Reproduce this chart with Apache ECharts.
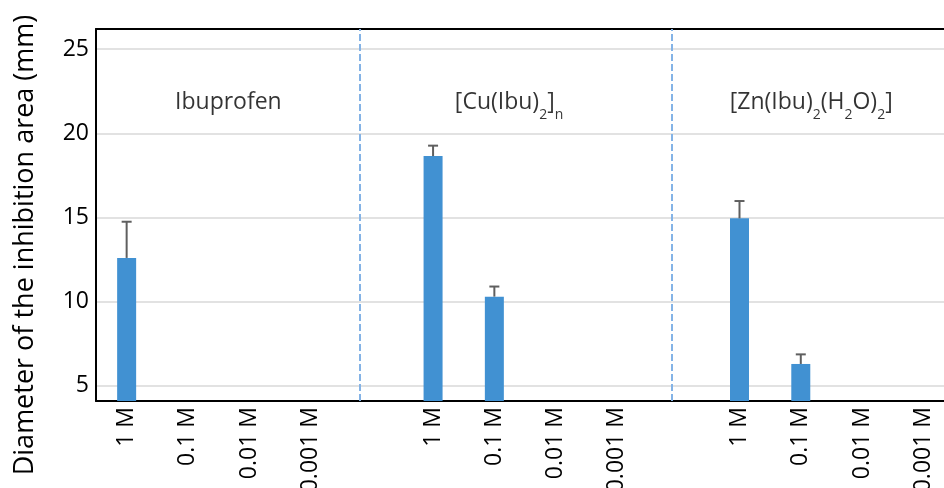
<!DOCTYPE html>
<html><head><meta charset="utf-8">
<script src="https://cdn.jsdelivr.net/npm/echarts@6/dist/echarts.min.js"></script>
<style>html,body{margin:0;padding:0;background:#fff}#c{width:944px;height:488px}</style>
</head><body><div id="c"></div>
<script>
// ---- data ----
const categories = ["1 M","0.1 M","0.01 M","0.001 M","","1 M","0.1 M","0.01 M","0.001 M","","1 M","0.1 M","0.01 M","0.001 M"];
const means  = [12.6, null, null, null, null, 18.65, 10.3, null, null, null, 14.95, 6.3, null, null];
const errors = [2.15, null, null, null, null, 0.62, 0.6, null, null, null, 1.03, 0.57, null, null];
const groupNames = ["{m|Ibuprofen}", "{m|[Cu(Ibu)}{s|2}{m|]}{s|n}", "{m|[Zn(Ibu)}{s|2}{m|(H}{s|2}{m|O)}{s|2}{m|]}"];
const groupLabelX = [1.66, 6.24, 11.17];
const groupLabelY = [22.5, 22.5, 22.5];
const dividerX = [3.8, 8.9];
const yAxisTitle = "Diameter of the inhibition area (mm)";

// ---- chart ----
const FONT = "Open Sans";
const chart = echarts.init(document.getElementById('c'), null, {renderer: 'canvas'});
const errData = [];
means.forEach((m, i) => { if (m != null && errors[i] != null) errData.push([i, m, errors[i]]); });

chart.setOption({
  animation: false,
  backgroundColor: '#fff',
  grid: {left: 96, top: 29, width: 858, height: 372, containLabel: false, outerBoundsMode: 'none'},
  xAxis: [{
    type: 'category', data: categories, boundaryGap: true,
    axisLine: {show: true, onZero: false, lineStyle: {color: '#000', width: 2}},
    axisTick: {show: false},
    axisLabel: {interval: 0, rotate: 90, margin: 6, fontSize: 23, fontFamily: FONT, color: '#000'},
    splitLine: {show: false}
  }, {
    type: 'value', position: 'top', min: -0.5, max: 13.5,
    axisLine: {show: true, onZero: false, lineStyle: {color: '#000', width: 2}},
    axisTick: {show: false}, axisLabel: {show: false}, splitLine: {show: false}
  }],
  yAxis: {
    type: 'value', min: 4.1, max: 26.2, splitNumber: 5,
    name: yAxisTitle, nameLocation: 'middle', nameGap: 57,
    nameTextStyle: {fontSize: 27, fontFamily: FONT, color: '#000', padding: [0, 60, 0, 0]},
    axisLine: {show: true, onZero: false, lineStyle: {color: '#000', width: 2}},
    axisTick: {show: false},
    axisLabel: {showMinLabel: false, showMaxLabel: false, margin: 7, fontSize: 23, fontFamily: FONT, color: '#000'},
    splitLine: {show: true, lineStyle: {color: '#d9d9d9', width: 1.5}}
  },
  series: [{
    type: 'bar', data: means, barWidth: 19, xAxisIndex: 0,
    itemStyle: {color: '#4191d2'}, z: 3
  }, {
    type: 'custom', xAxisIndex: 0, z: 4, data: errData,
    renderItem: function (params, api) {
      const i = api.value(0), m = api.value(1), e = api.value(2);
      const p0 = api.coord([i, m]);
      const p1 = api.coord([i, m + e]);
      const hw = 5;
      return {type: 'group', children: [
        {type: 'line', shape: {x1: p0[0], y1: p0[1], x2: p1[0], y2: p1[1]}, style: {stroke: '#5f5f5f', lineWidth: 2}},
        {type: 'line', shape: {x1: p1[0] - hw, y1: p1[1], x2: p1[0] + hw, y2: p1[1]}, style: {stroke: '#5f5f5f', lineWidth: 2}}
      ]};
    }
  }, {
    type: 'scatter', xAxisIndex: 1, symbolSize: 0, z: 5,
    data: groupLabelX.map((x, i) => ({value: [x, groupLabelY[i]], label: {formatter: groupNames[i]}})),
    label: {
      show: true, position: 'inside', align: 'center', verticalAlign: 'top',
      rich: {
        m: {fontSize: 23, fontFamily: FONT, color: '#000', verticalAlign: 'top'},
        s: {fontSize: 14, fontFamily: FONT, color: '#000', verticalAlign: 'top', padding: [17, 0, 0, 0]}
      }
    },
    markLine: {
      silent: true, symbol: 'none', label: {show: false},
      lineStyle: {color: '#84b3e6', width: 2, type: [7, 3]},
      data: dividerX.map(x => ({xAxis: x}))
    }
  }]
});
</script>
</body></html>
